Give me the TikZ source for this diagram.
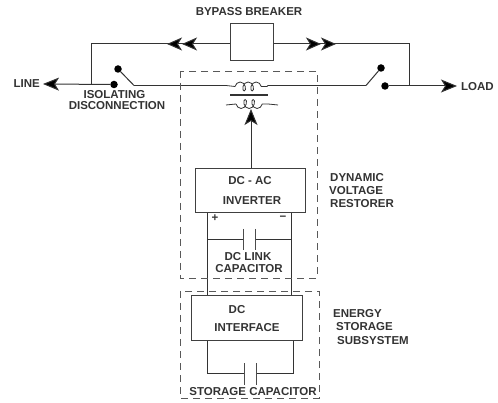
\documentclass[tikz,border=0pt]{standalone}
\usepackage{fontspec}
\setmainfont{Liberation Sans}
\usetikzlibrary{arrows.meta,decorations.pathmorphing}
\tikzset{
    wire/.style={line width=1pt,draw=black!80},
    boxnode/.style={draw=black!75,line width=1pt,inner sep=0pt},
    contact/.style={circle,fill=black,inner sep=0pt,minimum size=7.5pt},
    plate/.style={line width=1pt,draw=black!70},
    zone/.style={dashed,dash pattern=on 7pt off 5pt,line width=0.9pt,draw=black!65},
    lbl/.style={font=\fontsize{11.5}{12}\selectfont\bfseries,text=black!80,inner sep=0pt},
    lblleft/.style={lbl,anchor=west},
    winding/.style={wire,line width=0.8pt,decorate,decoration={coil,aspect=0.7,segment length=8pt,amplitude=4.5pt}},
    tip/.style={-{Stealth[length=16pt,width=13pt,inset=4pt,fill=black]}},
    tiptwo/.style={-{Stealth[length=15pt,width=13pt,inset=4pt,fill=black]Stealth[length=15pt,width=13pt,inset=4pt,fill=black,sep=-3pt]}}
}
\begin{document}
\begin{tikzpicture}[x=1pt,y=-1pt]
    \useasboundingbox (0,0) rectangle (498,403);
    % Bypass branch
    \node[boxnode,minimum width=43pt,minimum height=37pt] (breaker) at (251.5,42.5) {};
    \node[lbl] (breakerlabel) at (249,12) {BYPASS BREAKER};
    \coordinate (bypassleft) at (91,44);
    \coordinate (bypassright) at (409,44);
    \coordinate (lineend) at (43,84);
    \coordinate (loadend) at (457,86);
    \node[contact] (linefixed) at (114,84.5) {};
    \node[contact] (lineblade) at (118,69) {};
    \node[contact] (loadfixed) at (385,86) {};
    \node[contact] (loadblade) at (381,68) {};
    \coordinate (lineswitch) at (134,85.5);
    \coordinate (loadswitch) at (366,85.5);
    \coordinate (linejoin) at (91,84.5);
    \coordinate (loadjoin) at (409,86);
    \coordinate (bypassleftmid) at (170,44);
    \coordinate (bypassrightmid) at (333,44);
    \draw[wire,tiptwo] (breaker.west |- bypassleft) -- (bypassleftmid);
    \draw[wire] (bypassleftmid) -- (bypassleft) -- (linejoin);
    \draw[wire,tiptwo] (breaker.east |- bypassright) -- (bypassrightmid);
    \draw[wire] (bypassrightmid) -- (bypassright) -- (loadjoin);
    % Line and load ends
    \draw[wire,tip] (linefixed) -- (lineend);
    \draw[wire,tip] (loadfixed) -- (loadend);
    \draw[wire] (lineblade) -- (lineswitch);
    \draw[wire] (loadblade) -- (loadswitch);
    \node[lbl,anchor=east] (linelabel) at (40,84) {LINE};
    \node[lblleft] (loadlabel) at (461,87) {LOAD};
    \node[lbl] (isolatinglabel) at (114.5,95) {ISOLATING};
    \node[lbl] (disconnectlabel) at (117,106) {DISCONNECTION};
    % Series transformer
    \coordinate (upperin) at (226,85.5);
    \coordinate (upperout) at (268,85.5);
    \coordinate (lowerin) at (226,105);
    \coordinate (lowerout) at (278,105);
    \coordinate (corel) at (230,95);
    \coordinate (corer) at (268,95);
    \draw[wire] (lineswitch) -- (upperin);
    \draw[wire] (upperout) -- (loadswitch);
    \draw[winding] (upperin) ++(9,1) coordinate (ua) -- ++(32,0) coordinate (ub);
    \draw[wire,line width=0.8pt] (upperin) -- (ua) (ub) -- (upperout);
    \draw[wire,line width=1.1pt] (corel) -- (corer);
    \draw[winding,decoration={mirror}] (lowerin) ++(10,-1) coordinate (la) -- ++(32,0) coordinate (lb);
    \draw[wire,line width=0.8pt] (lowerin) -- (la) (lb) -- (lowerout);
    % Inverter
    \node[boxnode,minimum width=110pt,minimum height=44pt] (inverter) at (250,191) {};
    \node[lbl] (inverterone) at (250,181) {DC - AC};
    \node[lbl] (invertertwo) at (252,201) {INVERTER};
    \coordinate (coilfeed) at (251,109);
    \draw[wire,tip] (inverter.north -| coilfeed) -- (coilfeed);
    % Interface
    \node[boxnode,minimum width=111pt,minimum height=44pt] (interface) at (246.5,318) {};
    \node[lbl] (interfaceone) at (237,310) {DC};
    \node[lbl] (interfacetwo) at (247,328) {INTERFACE};
    % DC link
    \coordinate (plusrail) at (207,240);
    \coordinate (minusrail) at (291,240);
    \coordinate (linkplatel) at (243,240);
    \coordinate (linkplater) at (255,240);
    \draw[wire] (inverter.south -| plusrail) -- (interface.north -| plusrail);
    \draw[wire] (inverter.south -| minusrail) -- (interface.north -| minusrail);
    \draw[wire] (plusrail) -- (linkplatel);
    \draw[wire] (linkplater) -- (minusrail);
    \draw[plate] (243,229) -- (243,250);
    \draw[plate] (255,229) -- (255,250);
    \node[lbl] (pluslabel) at (215,218) {+};
    \node[lbl] (minuslabel) at (283,218) {\textminus};
    \node[lbl] (linkone) at (248,257) {DC LINK};
    \node[lbl] (linktwo) at (249,268.5) {CAPACITOR};
    % Storage capacitor
    \coordinate (storagel) at (207,373);
    \coordinate (storager) at (293,373);
    \coordinate (storageplatel) at (244,373);
    \coordinate (storageplater) at (256,373);
    \draw[wire] (interface.south -| storagel) -- (storagel) -- (storageplatel);
    \draw[wire] (interface.south -| storager) -- (storager) -- (storageplater);
    \draw[plate] (244,363) -- (244,385);
    \draw[plate] (256,363) -- (256,385);
    \node[lbl] (storagelabel) at (253,392) {STORAGE CAPACITOR};
    % Dashed zones
    \draw[zone] (180,71) rectangle (317,278);
    \draw[zone] (180,291) rectangle (319,398);
    \node[lblleft] (dvrone) at (330,178) {DYNAMIC};
    \node[lblleft] (dvrtwo) at (329,191) {VOLTAGE};
    \node[lblleft] (dvrthree) at (330,204) {RESTORER};
    \node[lblleft] (essone) at (333,314) {ENERGY};
    \node[lblleft] (esstwo) at (336,327) {STORAGE};
    \node[lblleft] (essthree) at (337,341) {SUBSYSTEM};
\end{tikzpicture}
\end{document}
